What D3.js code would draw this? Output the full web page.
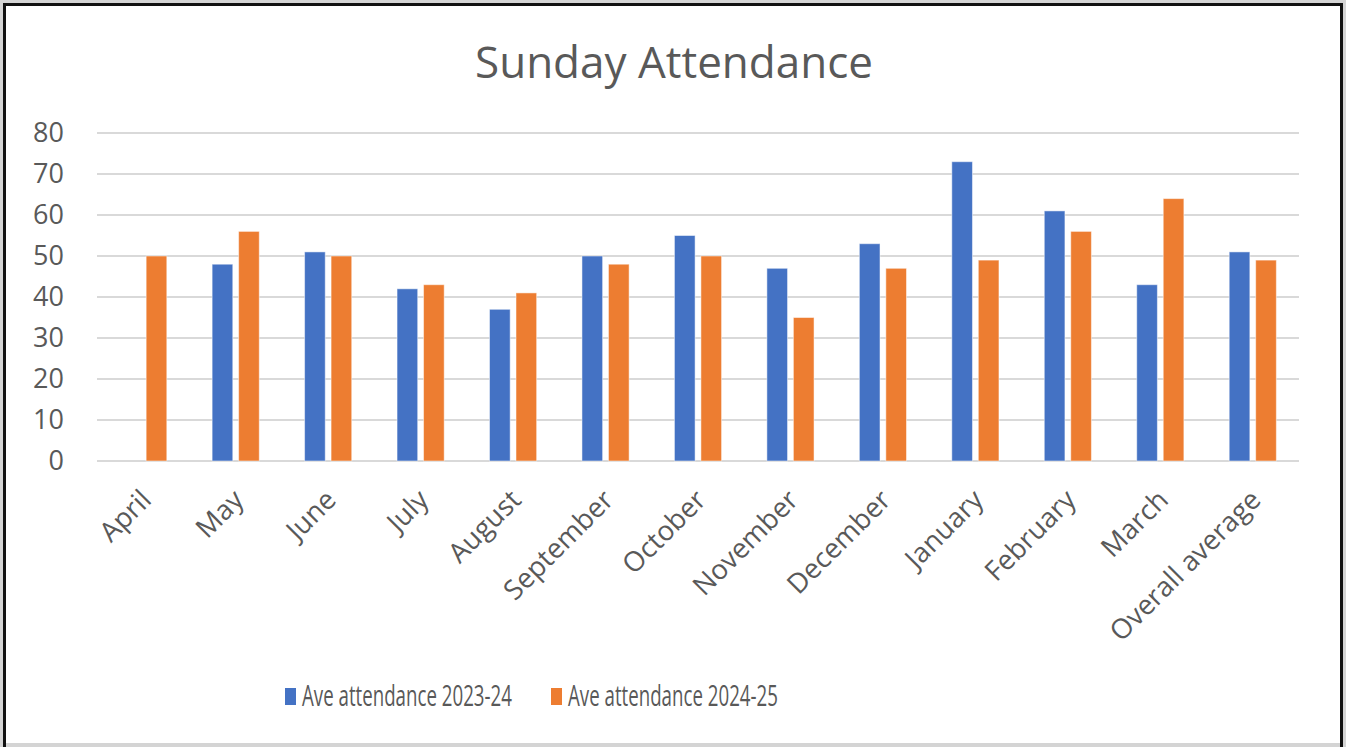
<!DOCTYPE html>
<html>
<head>
<meta charset="utf-8">
<script src="https://cdn.jsdelivr.net/npm/d3@7"></script>
<style>
  html, body { margin: 0; padding: 0; background: #d4d4d4; }
  svg { display: block; }
  text { font-family: "Open Sans", "Noto Sans", sans-serif; fill: #595959; }
</style>
</head>
<body>
<div id="chart"></div>
<script>
// chart data
const months = ['April', 'May', 'June', 'July', 'August', 'September', 'October',
  'November', 'December', 'January', 'February', 'March', 'Overall average'];
const series = ['Ave attendance 2023-24', 'Ave attendance 2024-25'];
const attendance2324 = [0, 48, 51, 42, 37, 50, 55, 47, 53, 73, 61, 43, 51];
const attendance2425 = [50, 56, 50, 43, 41, 48, 50, 35, 47, 49, 56, 64, 49];
const yTicks = [0, 10, 20, 30, 40, 50, 60, 70, 80];
const colors = ['#4472c4', '#ed7d31'];

const W = 1346, H = 747;
const svg = d3.select('#chart').append('svg')
  .attr('width', W)
  .attr('height', H);

// frame
svg.append('rect').attr('x', 6).attr('y', 6).attr('width', 1334).attr('height', 737).attr('fill', '#fff');
svg.append('rect').attr('x', 3).attr('y', 3).attr('width', 3).attr('height', H - 3).attr('fill', '#111');
svg.append('rect').attr('x', 3).attr('y', 3).attr('width', 1340).attr('height', 3).attr('fill', '#111');
svg.append('rect').attr('x', 1340).attr('y', 3).attr('width', 3).attr('height', H - 3).attr('fill', '#111');

svg.append('text')
  .attr('x', 674)
  .attr('y', 78)
  .attr('text-anchor', 'middle')
  .style('font-size', '44px')
  .text('Sunday Attendance');

const x0 = d3.scaleBand()
  .domain(months)
  .range([97, 1299])
  .paddingInner(0.49)
  .paddingOuter(0.245);

const x1 = d3.scaleBand()
  .domain(series)
  .range([0, x0.bandwidth()])
  .paddingInner(0.22);

const y = d3.scaleLinear()
  .domain([0, 80])
  .range([461, 133]);

// gridlines
svg.append('g')
  .selectAll('line')
  .data(yTicks)
  .enter()
  .append('line')
  .attr('x1', 97)
  .attr('x2', 1299)
  .attr('y1', d => y(d))
  .attr('y2', d => y(d))
  .attr('stroke', '#d9d9d9')
  .attr('stroke-width', 2);

// y axis labels
const yAxis = svg.append('g')
  .attr('transform', 'translate(64,0)')
  .call(d3.axisLeft(y).tickValues(yTicks).tickSize(0).tickPadding(0));
yAxis.select('.domain').remove();
yAxis.selectAll('text')
  .attr('fill', '#595959')
  .style('font-family', '"Open Sans", sans-serif')
  .style('font-size', '27px');

// bars
const table = months.map((m, i) => ({ month: m, values: [attendance2324[i], attendance2425[i]] }));

const groups = svg.append('g')
  .selectAll('g')
  .data(table)
  .enter()
  .append('g')
  .attr('transform', d => `translate(${x0(d.month)},0)`);

groups.selectAll('rect')
  .data(d => d.values.map((v, j) => ({ key: series[j], value: v, j })))
  .enter()
  .append('rect')
  .filter(d => d.value > 0)
  .attr('x', d => x1(d.key))
  .attr('width', x1.bandwidth())
  .attr('y', d => y(d.value))
  .attr('height', d => y(0) - y(d.value))
  .attr('fill', d => colors[d.j])
  .attr('stroke', '#fff')
  .attr('stroke-opacity', 0.5)
  .attr('stroke-width', 1);

// x labels
svg.append('g')
  .selectAll('text')
  .data(months)
  .enter()
  .append('text')
  .attr('transform', d => `translate(${x0(d) + x0.bandwidth() / 2 - 4},${488}) rotate(-45)`)
  .attr('text-anchor', 'end')
  .attr('dy', '0.7em')
  .style('font-size', '27.5px')
  .text(d => d);

// legend (text squeezed horizontally like the original)
const legendX = [285, 551];
const legend = svg.append('g')
  .selectAll('g')
  .data(series)
  .enter()
  .append('g')
  .attr('transform', (d, i) => `translate(${legendX[i]},688)`);

legend.append('rect')
  .attr('width', 11)
  .attr('height', 17)
  .attr('fill', (d, i) => colors[i]);

legend.append('g')
  .attr('transform', 'translate(17,18)')
  .append('text')
  .style('font-size', '30px')
  .text(d => d)
  .each(function () {
    const len = this.getComputedTextLength();
    d3.select(this.parentNode).attr('transform', `translate(17,18) scale(${210 / len},1)`);
  });
</script>
</body>
</html>
